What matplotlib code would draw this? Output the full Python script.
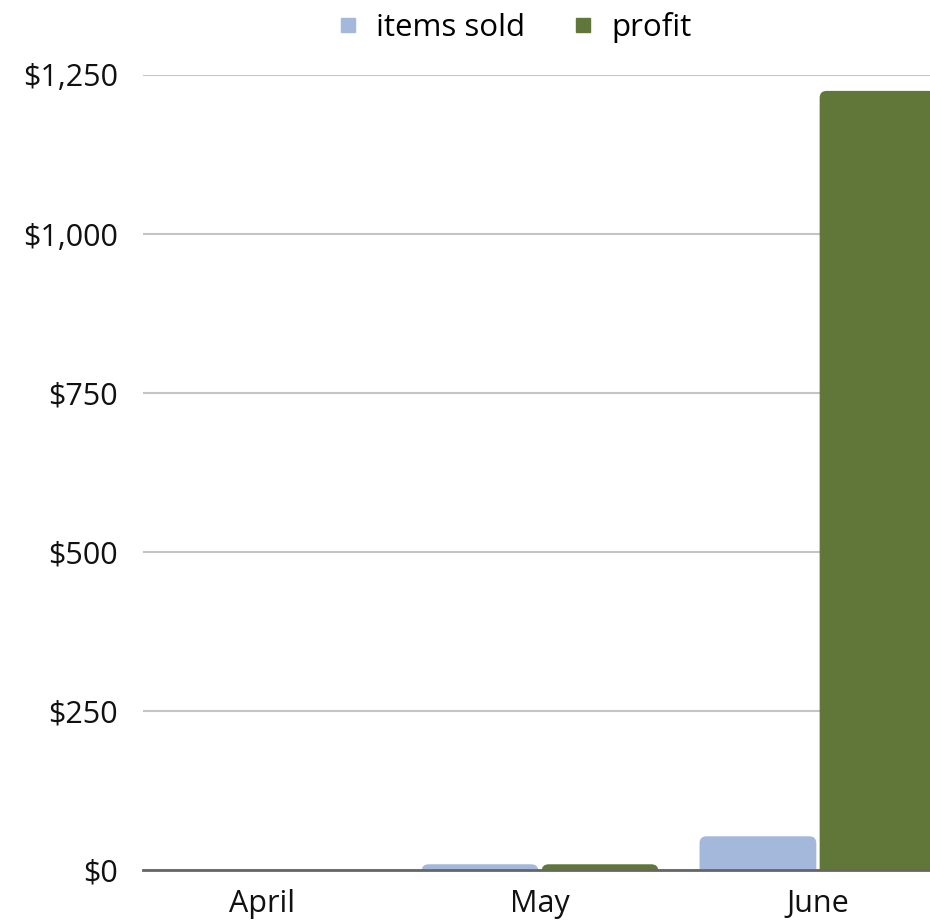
import matplotlib
matplotlib.use('Agg')
import matplotlib.pyplot as plt
import numpy as np
from matplotlib.patches import FancyBboxPatch
from matplotlib.lines import Line2D
from matplotlib.ticker import FuncFormatter

months = ['April', 'May', 'June']
items_sold = [0, 9, 53]
profit = [0, 9, 1225]

colors = {'items sold': '#a3b8db', 'profit': '#61773a'}

plt.rcParams['font.family'] = ['Open Sans', 'DejaVu Sans']

fig = plt.figure(figsize=(9.3, 9.22), dpi=100)
ax = fig.add_axes([143 / 930, 1 - 870 / 922, 1 - 143 / 930, (870 - 75) / 922])

x = np.arange(len(months))
width = 0.42
offset = 0.216
ax.set_xlim(-0.428, 0.403 + 2)
ax.set_ylim(0, 1250)

# px per data unit, used to round the bar tops
px_x = 278.0
px_y = 795.0 / 1250
radius = 7.0 / px_x
aspect = px_x / px_y

for series, vals, dx in [('items sold', items_sold, -offset), ('profit', profit, offset)]:
    for xi, v in zip(x, vals):
        if v <= 0:
            continue
        h = v + 30
        p = FancyBboxPatch((xi + dx - width / 2, -30), width, h,
                           boxstyle='round,pad=0,rounding_size=%f' % radius,
                           mutation_aspect=aspect,
                           facecolor=colors[series], edgecolor='none', zorder=2)
        ax.add_patch(p)

ax.set_yticks(np.arange(0, 1251, 250))
ax.yaxis.set_major_formatter(FuncFormatter(lambda v, _: '${:,.0f}'.format(v)))
ax.set_xticks(x)
ax.set_xticklabels(months)
ax.grid(axis='y', color='#c4c4c4', linewidth=1.5, zorder=0)
ax.set_axisbelow(True)
for s in ['left', 'right', 'top']:
    ax.spines[s].set_visible(False)
ax.spines['bottom'].set_color('#666666')
ax.spines['bottom'].set_linewidth(2)
ax.spines['bottom'].set_zorder(3)
ax.tick_params(length=0, labelsize=22, colors='#111111')
ax.tick_params(axis='x', pad=14)
ax.tick_params(axis='y', pad=18)

handles = [Line2D([], [], marker='s', linestyle='none', markersize=10,
                  color=colors[k]) for k in ['items sold', 'profit']]
fig.legend(handles, ['items sold', 'profit'], loc='upper center',
           bbox_to_anchor=(0.552, 1.018), ncol=2, frameon=False, fontsize=22.5,
           handlelength=0.8, handletextpad=0.5, columnspacing=1.45)

fig.savefig('out.png', dpi=100)
